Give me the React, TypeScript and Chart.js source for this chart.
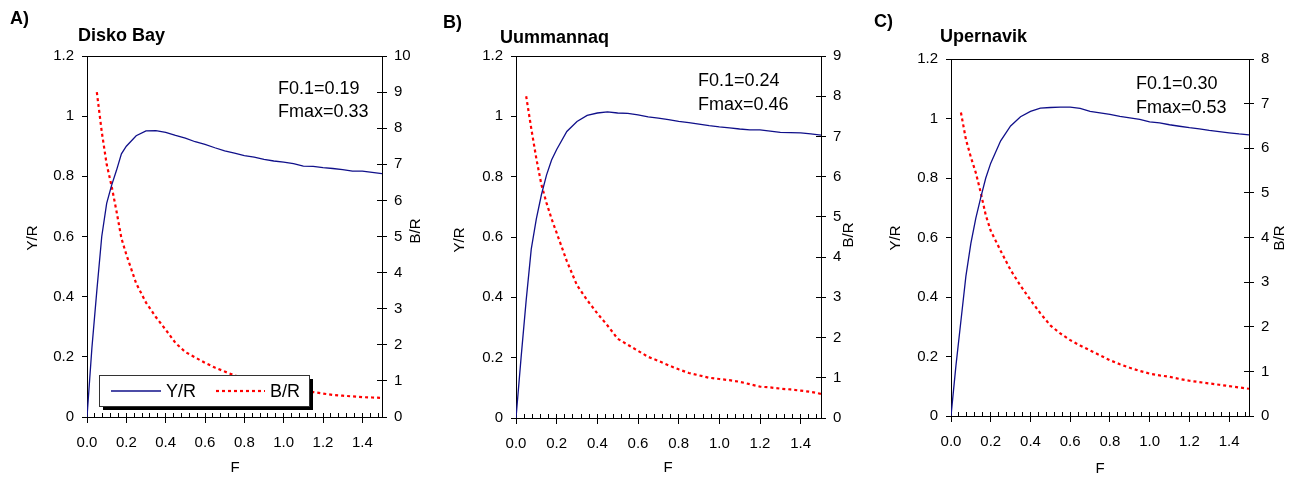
import React, { useEffect, useRef } from "react";
import { Chart, registerables } from "chart.js";

Chart.register(...registerables);

const FONT = "'Liberation Sans', Arial, Helvetica, sans-serif";
const PAGE_W = 1301;
const PAGE_H = 477;
const NAVY = "#10108a";
const RED = "#ff0000";

// Fishing mortality (F) grid shared by the three areas
const fishingMortality = [
  0, 0.025, 0.05, 0.075, 0.1, 0.125, 0.15, 0.175, 0.2, 0.25, 0.3, 0.35, 0.4, 0.45, 0.5, 0.55,
  0.6, 0.65, 0.7, 0.75, 0.8, 0.85, 0.9, 0.95, 1.0, 1.05, 1.1, 1.15, 1.2, 1.25, 1.3, 1.35, 1.4,
  1.45, 1.5,
];

// Yield per recruit (left axis)
const diskoYieldPerRecruit = [
  0, 0.23, 0.42, 0.6, 0.71, 0.77, 0.82, 0.875, 0.9, 0.935, 0.951, 0.952, 0.946, 0.936, 0.927,
  0.915, 0.906, 0.895, 0.885, 0.877, 0.869, 0.864, 0.856, 0.851, 0.847, 0.842, 0.834, 0.833,
  0.829, 0.826, 0.822, 0.817, 0.817, 0.813, 0.809,
];
const uummannaqYieldPerRecruit = [
  0, 0.2, 0.39, 0.56, 0.66, 0.74, 0.805, 0.855, 0.89, 0.95, 0.983, 1.003, 1.011, 1.015, 1.011,
  1.01, 1.005, 0.998, 0.994, 0.989, 0.983, 0.979, 0.974, 0.969, 0.965, 0.962, 0.958, 0.955,
  0.955, 0.951, 0.947, 0.946, 0.945, 0.942, 0.938,
];
const upernavikYieldPerRecruit = [
  0, 0.17, 0.32, 0.47, 0.58, 0.665, 0.735, 0.8, 0.85, 0.925, 0.975, 1.006, 1.024, 1.035, 1.037,
  1.038, 1.038, 1.034, 1.024, 1.019, 1.014, 1.007, 1.002, 0.997, 0.989, 0.985, 0.979, 0.974,
  0.969, 0.965, 0.96, 0.956, 0.952, 0.948, 0.945,
];

// Biomass per recruit (right axis); not plotted below F = 0.05
const diskoBiomassPerRecruit = [
  null, null, 9.0, 7.9, 7.0, 6.4, 5.7, 4.95, 4.5, 3.7, 3.17, 2.77, 2.42, 2.05, 1.8, 1.65, 1.5,
  1.37, 1.26, 1.15, 1.07, 0.99, 0.93, 0.87, 0.82, 0.77, 0.73, 0.69, 0.65, 0.61, 0.59, 0.57, 0.55,
  0.54, 0.53,
];
const uummannaqBiomassPerRecruit = [
  null, null, 8.0, 7.2, 6.45, 5.8, 5.35, 4.95, 4.6, 3.9, 3.3, 2.93, 2.6, 2.3, 1.97, 1.82, 1.67,
  1.52, 1.42, 1.31, 1.21, 1.12, 1.06, 1.0, 0.97, 0.94, 0.9, 0.84, 0.78, 0.76, 0.73, 0.71, 0.68,
  0.65, 0.6,
];
const upernavikBiomassPerRecruit = [
  null, null, 6.8, 6.2, 5.8, 5.45, 5.0, 4.5, 4.15, 3.7, 3.27, 2.92, 2.6, 2.3, 2.03, 1.85, 1.7,
  1.58, 1.47, 1.36, 1.25, 1.16, 1.08, 1.01, 0.95, 0.91, 0.88, 0.83, 0.79, 0.76, 0.73, 0.7, 0.67,
  0.64, 0.61,
];

const regionNames = ["Disko Bay", "Uummannaq", "Upernavik"];
const panelLetters = ["A)", "B)", "C)"];
const f01Values = [0.19, 0.24, 0.3];
const fmaxValues = [0.33, 0.46, 0.53];
const biomassAxisMax = [10, 9, 8];
const yieldAxisMax = 1.2;
const yieldTickStep = 0.2;
const fAxisMax = 1.5;
const fTickStep = 0.2;
const fMinorStep = 0.04;

type Box = { left: number; right: number; top: number; bottom: number };
type PanelLayout = {
  canvasLeft: number;
  canvasWidth: number;
  area: Box;
  letterAt: [number, number];
  titleAt: [number, number];
  noteAt: [number, number, number];
  yTitleAt: [number, number];
  bTitleAt: [number, number];
  fTitleAt: [number, number];
  legend: boolean;
};

// Page placement of each panel
const panelLayouts: PanelLayout[] = [
  {
    canvasLeft: 0,
    canvasWidth: 435,
    area: { left: 87, right: 382, top: 56, bottom: 417 },
    letterAt: [10, 24],
    titleAt: [78, 41],
    noteAt: [278, 94, 117],
    yTitleAt: [33, 238],
    bTitleAt: [416, 231],
    fTitleAt: [235, 468],
    legend: true,
  },
  {
    canvasLeft: 435,
    canvasWidth: 430,
    area: { left: 516, right: 821, top: 56, bottom: 418 },
    letterAt: [443, 28],
    titleAt: [500, 43],
    noteAt: [698, 86, 110],
    yTitleAt: [460, 240],
    bTitleAt: [849, 235],
    fTitleAt: [668, 468],
    legend: false,
  },
  {
    canvasLeft: 865,
    canvasWidth: 436,
    area: { left: 951, right: 1249, top: 59, bottom: 416 },
    letterAt: [874, 27],
    titleAt: [940, 42],
    noteAt: [1136, 89, 113],
    yTitleAt: [896, 238],
    bTitleAt: [1280, 238],
    fTitleAt: [1100, 469],
    legend: false,
  },
];

const yieldSeries = [diskoYieldPerRecruit, uummannaqYieldPerRecruit, upernavikYieldPerRecruit];
const biomassSeries = [diskoBiomassPerRecruit, uummannaqBiomassPerRecruit, upernavikBiomassPerRecruit];

const BR_DASH = [3, 3];

function makeDecorPlugin(index: number) {
  const lay = panelLayouts[index];
  const ox = lay.canvasLeft;
  return {
    id: "panelDecor",
    afterDraw(chart: any) {
      const ctx: CanvasRenderingContext2D = chart.ctx;
      const { left, right, top, bottom } = chart.chartArea;
      const xs = chart.scales.x;
      const b = chart.scales.y1;
      ctx.save();
      ctx.strokeStyle = "#000";
      ctx.lineWidth = 1;
      ctx.beginPath();
      // top edge of the plot frame
      const ty = Math.round(top - 0.5) + 0.5;
      ctx.moveTo(left, ty);
      ctx.lineTo(right, ty);
      // inward minor ticks along F
      for (let k = 1; k * fMinorStep < fAxisMax - 1e-9; k++) {
        const px = Math.round(xs.getPixelForValue(k * fMinorStep) - 0.5) + 0.5;
        ctx.moveTo(px, bottom);
        ctx.lineTo(px, bottom - 4);
      }
      // inward half of the B/R ticks
      for (let v = 0; v <= biomassAxisMax[index]; v++) {
        const py = Math.round(b.getPixelForValue(v) - 0.5) + 0.5;
        ctx.moveTo(right - 5, py);
        ctx.lineTo(right, py);
      }
      ctx.stroke();

      ctx.fillStyle = "#000";
      ctx.textAlign = "left";
      ctx.textBaseline = "alphabetic";
      ctx.font = `bold 18px ${FONT}`;
      ctx.fillText(panelLetters[index], lay.letterAt[0] - ox, lay.letterAt[1]);
      ctx.fillText(regionNames[index], lay.titleAt[0] - ox, lay.titleAt[1]);

      ctx.font = `18px ${FONT}`;
      ctx.fillText(`F0.1=${f01Values[index].toFixed(2)}`, lay.noteAt[0] - ox, lay.noteAt[1]);
      ctx.fillText(`Fmax=${fmaxValues[index].toFixed(2)}`, lay.noteAt[0] - ox, lay.noteAt[2]);

      ctx.font = `15px ${FONT}`;
      ctx.textAlign = "center";
      ctx.textBaseline = "middle";
      ctx.fillText("F", lay.fTitleAt[0] - ox, lay.fTitleAt[1]);
      for (const [label, at] of [
        ["Y/R", lay.yTitleAt],
        ["B/R", lay.bTitleAt],
      ] as [string, [number, number]][]) {
        ctx.save();
        ctx.translate(at[0] - ox, at[1]);
        ctx.rotate(-Math.PI / 2);
        ctx.fillText(label, 0, 0);
        ctx.restore();
      }

      if (lay.legend) {
        const lx = 99 - ox;
        const ly = 375;
        const lw = 210;
        const lh = 31;
        ctx.fillStyle = "#000";
        ctx.fillRect(lx + 4, ly + 4, lw, lh);
        ctx.fillStyle = "#fff";
        ctx.fillRect(lx, ly, lw, lh);
        ctx.strokeStyle = "#333";
        ctx.lineWidth = 1;
        ctx.strokeRect(lx + 0.5, ly + 0.5, lw, lh);
        const my = ly + 16;
        ctx.beginPath();
        ctx.strokeStyle = NAVY;
        ctx.lineWidth = 1.3;
        ctx.moveTo(lx + 12, my);
        ctx.lineTo(lx + 62, my);
        ctx.stroke();
        ctx.beginPath();
        ctx.strokeStyle = RED;
        ctx.lineWidth = 2.2;
        ctx.setLineDash(BR_DASH);
        ctx.moveTo(lx + 117, my);
        ctx.lineTo(lx + 166, my);
        ctx.stroke();
        ctx.setLineDash([]);
        ctx.fillStyle = "#000";
        ctx.font = `18px ${FONT}`;
        ctx.textAlign = "left";
        ctx.textBaseline = "middle";
        ctx.fillText("Y/R", lx + 67, my + 1);
        ctx.fillText("B/R", lx + 171, my + 1);
      }
      ctx.restore();
    },
  };
}

function PerRecruitPanel({ index }: { index: number }) {
  const ref = useRef<HTMLCanvasElement | null>(null);
  const lay = panelLayouts[index];

  useEffect(() => {
    const canvas = ref.current;
    if (!canvas) return;
    const area = lay.area;
    const yieldPoints = fishingMortality.map((f, i) => ({ x: f, y: yieldSeries[index][i] }));
    const biomassPoints = fishingMortality
      .map((f, i) => ({ x: f, y: biomassSeries[index][i] }))
      .filter((p) => p.y !== null);

    const axisGrid = (len: number) => ({
      drawOnChartArea: false,
      drawTicks: true,
      tickLength: len,
      color: "#000",
      lineWidth: 1,
    });
    const axisBorder = { display: true, color: "#000", width: 1 };
    const tickFont = { family: FONT, size: 15 };

    const chart = new Chart(canvas, {
      type: "line",
      data: {
        datasets: [
          {
            label: "Y/R",
            data: yieldPoints,
            yAxisID: "y",
            borderColor: NAVY,
            borderWidth: 1.3,
            pointRadius: 0,
            fill: false,
            tension: 0,
          },
          {
            label: "B/R",
            data: biomassPoints as any,
            yAxisID: "y1",
            borderColor: RED,
            borderWidth: 2.2,
            borderDash: BR_DASH,
            pointRadius: 0,
            fill: false,
            tension: 0,
          },
        ],
      },
      options: {
        animation: false,
        responsive: false,
        maintainAspectRatio: false,
        events: [],
        layout: { padding: { top: area.top, left: 0, right: 0, bottom: 0 } },
        plugins: {
          legend: { display: false },
          tooltip: { enabled: false },
          title: { display: false },
        },
        scales: {
          x: {
            type: "linear",
            position: "bottom",
            min: 0,
            max: fAxisMax,
            ticks: {
              stepSize: fTickStep,
              includeBounds: false,
              autoSkip: false,
              maxRotation: 0,
              padding: 11,
              color: "#000",
              font: tickFont,
              callback: (v: any) => Number(v).toFixed(1),
            },
            grid: axisGrid(6),
            border: axisBorder,
            afterFit: (s: any) => {
              s.height = PAGE_H - area.bottom;
            },
          },
          y: {
            type: "linear",
            position: "left",
            min: 0,
            max: yieldAxisMax,
            ticks: {
              stepSize: yieldTickStep,
              padding: 8,
              color: "#000",
              font: tickFont,
              callback: (v: any) => String(Math.round(Number(v) * 10) / 10),
            },
            grid: axisGrid(5),
            border: axisBorder,
            afterFit: (s: any) => {
              s.width = area.left - lay.canvasLeft;
            },
          },
          y1: {
            type: "linear",
            position: "right",
            min: 0,
            max: biomassAxisMax[index],
            ticks: {
              stepSize: 1,
              padding: 7,
              color: "#000",
              font: tickFont,
            },
            grid: axisGrid(5),
            border: axisBorder,
            afterFit: (s: any) => {
              s.width = lay.canvasLeft + lay.canvasWidth - area.right;
            },
          },
        },
      } as any,
      plugins: [makeDecorPlugin(index)],
    });
    return () => chart.destroy();
  }, [index]);

  return (
    <canvas
      ref={ref}
      width={lay.canvasWidth}
      height={PAGE_H}
      style={{
        position: "absolute",
        left: lay.canvasLeft,
        top: 0,
        width: lay.canvasWidth,
        height: PAGE_H,
      }}
    />
  );
}

export default function App() {
  return (
    <div
      style={{
        position: "fixed",
        left: 0,
        top: 0,
        width: PAGE_W,
        height: PAGE_H,
        background: "#fff",
        overflow: "hidden",
      }}
    >
      {panelLayouts.map((_, i) => (
        <PerRecruitPanel key={i} index={i} />
      ))}
    </div>
  );
}
